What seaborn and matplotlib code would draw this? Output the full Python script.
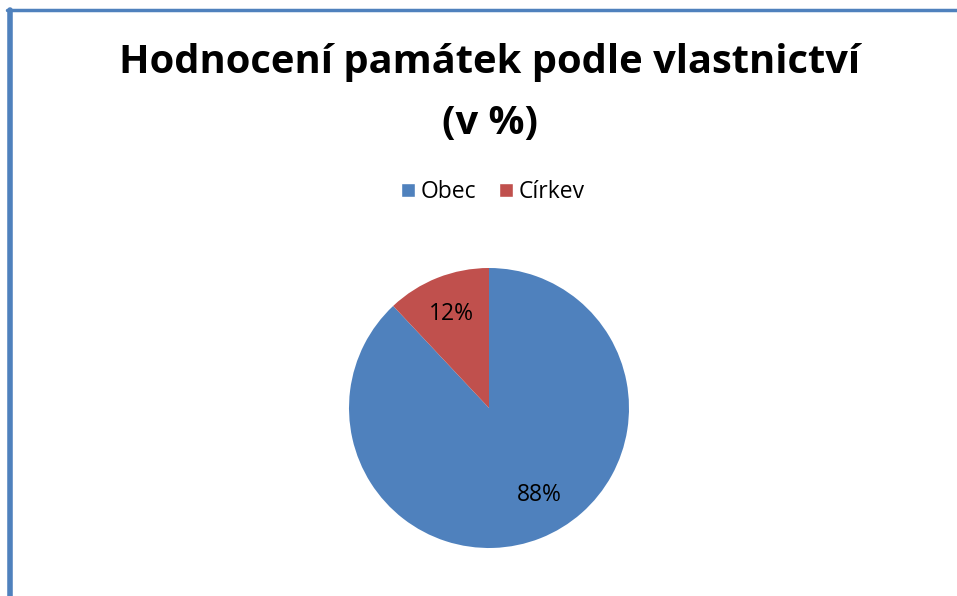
import matplotlib
matplotlib.use('Agg')
import matplotlib.pyplot as plt
import seaborn as sns
from matplotlib.lines import Line2D
from matplotlib.patches import Patch

sns.set_style('white')
plt.rcParams['font.family'] = ['Open Sans', 'DejaVu Sans']
plt.rcParams['text.color'] = 'black'

labels = ['Obec', 'Církev']
values = [88, 12]
colors = ['#4F81BD', '#C0504D']

W, H = 957, 596
fig = plt.figure(figsize=(W / 100, H / 100), dpi=100)

# pie axes: centre (489, 408), radius 140 px
cx, cy, r = 489, 408, 140
ax = fig.add_axes([(cx - r) / W, (H - cy - r) / H, 2 * r / W, 2 * r / H])
wedges, _, autotexts = ax.pie(values, colors=colors, startangle=90, counterclock=False,
                              autopct='%1.0f%%', pctdistance=0.72,
                              wedgeprops={'linewidth': 0},
                              textprops={'fontsize': 16.5, 'color': 'black'})
# excel puts the big label a bit further right
autotexts[0].set_position((0.36, -0.62))
ax.set_xlim(-1, 1)
ax.set_ylim(-1, 1)
ax.set_aspect('equal')
ax.axis('off')

tx = 490 / W
fig.text(tx, 1 - 63 / H, 'Hodnocení památek podle vlastnictví', ha='center', va='center',
         fontsize=28.7, fontweight='bold', color='black')
fig.text(tx, 1 - 123 / H, '(v %)', ha='center', va='center',
         fontsize=28.7, fontweight='bold', color='black')

handles = [Patch(facecolor=c, label=l) for c, l in zip(colors, labels)]
fig.legend(handles=handles, loc='center', bbox_to_anchor=(493 / W, 1 - 192 / H), ncol=2,
           frameon=False, fontsize=16.5, handlelength=0.6, handleheight=0.6,
           handletextpad=0.25, columnspacing=1.0, labelcolor='black')

# chart border (left and top visible)
fig.add_artist(Line2D([9.5 / W, 9.5 / W], [0, 1 - 10 / H], transform=fig.transFigure,
                      color='#4F81BD', linewidth=4))
fig.add_artist(Line2D([7 / W, 1], [1 - 10 / H, 1 - 10 / H], transform=fig.transFigure,
                      color='#4F81BD', linewidth=2.5))

fig.savefig('out.png', dpi=100)
